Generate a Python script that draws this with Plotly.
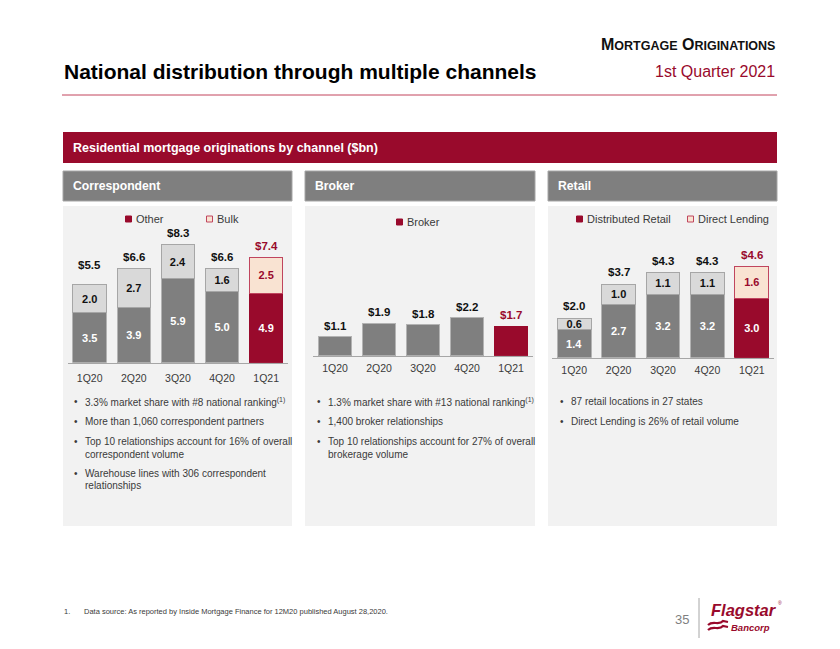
import plotly.graph_objects as go

# ---------------- data ----------------
quarters = ["1Q20", "2Q20", "3Q20", "4Q20", "1Q21"]

corr_other = [3.5, 3.9, 5.9, 5.0, 4.9]
corr_bulk = [2.0, 2.7, 2.4, 1.6, 2.5]
corr_total = [5.5, 6.6, 8.3, 6.6, 7.4]

broker_vals = [1.1, 1.9, 1.8, 2.2, 1.7]

retail_dist = [1.4, 2.7, 3.2, 3.2, 3.0]
retail_direct = [0.6, 1.0, 1.1, 1.1, 1.6]
retail_total = [2.0, 3.7, 4.3, 4.3, 4.6]

corr_bullets = [
    ["3.3% market share with #8 national ranking<sup>(1)</sup>"],
    ["More than 1,060 correspondent partners"],
    ["Top 10 relationships account for 16% of overall", "correspondent volume"],
    ["Warehouse lines with 306 correspondent", "relationships"],
]
broker_bullets = [
    ["1.3% market share with #13 national ranking<sup>(1)</sup>"],
    ["1,400 broker relationships"],
    ["Top 10 relationships account for 27% of overall", "brokerage volume"],
]
retail_bullets = [
    ["87 retail locations in 27 states"],
    ["Direct Lending is 26% of retail volume"],
]

# ---------------- style ----------------
OFF = 8                      # page body margin
W, H = 840 - 2 * OFF, 649 - 2 * OFF
CRIMSON = "#990a2c"
DGRAY = "#7f7f7f"
LGRAY = "#d9d9d9"
PINK = "#f9e3d2"
PANEL = "#f2f2f2"
HDR = "#7f7f7f"
TXT = "#3a3a3a"
FONT = "Liberation Sans, Arial, sans-serif"


def fx(px):
    return (px - OFF) / W


def fy(py):
    return 1 - (py - OFF) / H


fig = go.Figure()

last = len(quarters) - 1


def seg_colors(base, hl):
    return [hl if i == last else base for i in range(len(quarters))]


# Correspondent
fig.add_trace(go.Bar(
    x=quarters, y=corr_other, xaxis="x", yaxis="y",
    marker=dict(color=seg_colors(DGRAY, CRIMSON),
                line=dict(color=seg_colors("#b3b3b3", CRIMSON), width=1)),
    texttemplate="%{y:.1f}", textposition="inside", insidetextanchor="middle",
    textfont=dict(color="white", size=11, family=FONT, weight="bold"),
    showlegend=False, hoverinfo="skip"))
fig.add_trace(go.Bar(
    x=quarters, y=corr_bulk, xaxis="x", yaxis="y",
    marker=dict(color=seg_colors(LGRAY, PINK),
                line=dict(color=seg_colors("#a6a6a6", "#c0455e"), width=1)),
    texttemplate="%{y:.1f}", textposition="inside", insidetextanchor="middle",
    textfont=dict(color=seg_colors("#111111", CRIMSON), size=11, family=FONT, weight="bold"),
    showlegend=False, hoverinfo="skip"))

# Broker
fig.add_trace(go.Bar(
    x=quarters, y=broker_vals, xaxis="x2", yaxis="y2",
    marker=dict(color=seg_colors(DGRAY, CRIMSON),
                line=dict(color=seg_colors("#b3b3b3", CRIMSON), width=1)),
    showlegend=False, hoverinfo="skip"))

# Retail
fig.add_trace(go.Bar(
    x=quarters, y=retail_dist, xaxis="x3", yaxis="y3",
    marker=dict(color=seg_colors(DGRAY, CRIMSON),
                line=dict(color=seg_colors("#b3b3b3", CRIMSON), width=1)),
    texttemplate="%{y:.1f}", textposition="inside", insidetextanchor="middle",
    textfont=dict(color="white", size=11, family=FONT, weight="bold"),
    showlegend=False, hoverinfo="skip"))
fig.add_trace(go.Bar(
    x=quarters, y=retail_direct, xaxis="x3", yaxis="y3",
    marker=dict(color=seg_colors(LGRAY, PINK),
                line=dict(color=seg_colors("#a6a6a6", "#c0455e"), width=1)),
    texttemplate="%{y:.1f}", textposition="inside", insidetextanchor="middle",
    textfont=dict(color=seg_colors("#111111", CRIMSON), size=11, family=FONT, weight="bold"),
    showlegend=False, hoverinfo="skip"))

annotations = []
shapes = []


def note(px, py, text, size, color=TXT, xanchor="left", family=FONT, **kw):
    annotations.append(dict(
        x=fx(px), y=fy(py), xref="paper", yref="paper", xanchor=xanchor, yanchor="middle",
        showarrow=False, text=text, font=dict(family=family, size=size, color=color, **kw)))


# total labels
for xa, ya, totals, shift in [("x", "y", corr_total, 4), ("x2", "y2", broker_vals, 3),
                              ("x3", "y3", retail_total, 4)]:
    for i, (q, t) in enumerate(zip(quarters, totals)):
        annotations.append(dict(
            x=q, y=t, xref=xa, yref=ya, text=f"<b>${t:.1f}</b>", showarrow=False,
            yanchor="bottom", yshift=shift + (8 if (xa == "x" and i == 0) else 0),
            font=dict(family=FONT, size=11.5, color=CRIMSON if i == last else "#111111")))

# ---------------- header ----------------
note(777, 44,
     "<b>M<span style='font-size:12.5px'>ORTGAGE</span> O<span style='font-size:12.5px'>RIGINATIONS</span></b>",
     16, color="#111111", xanchor="right")
note(62, 72, "<b>National distribution through multiple channels</b>", 21, color="#000000")
note(777, 72, "1st Quarter 2021", 16, color=CRIMSON, xanchor="right")
shapes.append(dict(type="line", xref="paper", yref="paper", x0=fx(62), x1=fx(777),
                   y0=fy(95), y1=fy(95), line=dict(color="#c2455d", width=1)))

# banner
shapes.append(dict(type="rect", xref="paper", yref="paper", x0=fx(63), x1=fx(777),
                   y0=fy(163), y1=fy(132), fillcolor=CRIMSON, line=dict(width=0), layer="below"))
note(71, 148, "<b>Residential mortgage originations by channel ($bn)</b>", 12.5, color="white")

panels = [(63, 292, "Correspondent"), (305, 535, "Broker"), (548, 777, "Retail")]
for x0, x1, name in panels:
    shapes.append(dict(type="rect", xref="paper", yref="paper", x0=fx(x0), x1=fx(x1),
                       y0=fy(201), y1=fy(171), fillcolor=HDR,
                       line=dict(color="#a6a6a6", width=1), layer="below"))
    shapes.append(dict(type="rect", xref="paper", yref="paper", x0=fx(x0), x1=fx(x1),
                       y0=fy(526), y1=fy(206), fillcolor=PANEL,
                       line=dict(width=0), layer="below"))
    note(x0 + 8, 186, f"<b>{name}</b>", 12.2, color="white")

# legends (custom)
legend_items = [
    (125.5, 219, CRIMSON, CRIMSON, "Other"),
    (206.5, 219, PINK, "#c0455e", "Bulk"),
    (396.5, 222, CRIMSON, CRIMSON, "Broker"),
    (576.5, 219, CRIMSON, CRIMSON, "Distributed Retail"),
    (687.5, 219, PINK, "#c0455e", "Direct Lending"),
]
for sx, sy, fill, edge, label in legend_items:
    shapes.append(dict(type="rect", xref="paper", yref="paper", x0=fx(sx), x1=fx(sx + 6),
                       y0=fy(sy + 3), y1=fy(sy - 3), fillcolor=fill,
                       line=dict(color=edge, width=1)))
    note(sx + 8, sy, label, 11)

# bullets
line_gap = 12.5
for bullets, bx in [(corr_bullets, 72), (broker_bullets, 315), (retail_bullets, 558)]:
    y = 401.5
    for item in bullets:
        note(bx, y, "•", 10)
        for j, ln in enumerate(item):
            note(bx + 11, y + j * line_gap, ln, 10)
        y += 20 + (len(item) - 1) * 11.5

# footer
note(62, 611, "1.", 7.5)
note(82, 611, "Data source: As reported by Inside Mortgage Finance for 12M20 published August 28,2020.", 7.5)
note(691, 619, "35", 13, color="#7f7f7f", xanchor="right")
shapes.append(dict(type="line", xref="paper", yref="paper", x0=fx(699), x1=fx(699),
                   y0=fy(598), y1=fy(638), line=dict(color="#a6a6a6", width=1)))
note(709, 610, "Flagstar", 16.5, color=CRIMSON, weight="bold", style="italic")
note(776, 603, "®", 5, color=CRIMSON)
note(729, 627.5, "Bancorp", 9.5, color=CRIMSON, weight="bold", style="italic")


def wave(y0):
    pts = [(708, y0 + 2), (713, y0 - 3), (719, y0 + 3), (723, y0 - 2), (728, y0 - 1)]
    p = f"M {fx(pts[0][0])},{fy(pts[0][1])} "
    p += f"C {fx(pts[1][0])},{fy(pts[1][1])} {fx(pts[2][0])},{fy(pts[2][1])} {fx(pts[3][0])},{fy(pts[3][1])} "
    p += f"L {fx(pts[4][0])},{fy(pts[4][1])}"
    return p


for y0 in (623, 628):
    shapes.append(dict(type="path", xref="paper", yref="paper", path=wave(y0),
                       line=dict(color=CRIMSON, width=2.2)))

# ---------------- axes ----------------
axis_common = dict(showgrid=False, zeroline=False, showline=True, linecolor="#a6a6a6",
                   linewidth=1, ticks="outside", tickcolor="rgba(0,0,0,0)",
                   tickfont=dict(family=FONT, size=10.5, color=TXT), fixedrange=True)
yaxis_common = dict(showgrid=False, zeroline=False, showline=False, showticklabels=False,
                    fixedrange=True)

fig.update_layout(
    width=W, height=H, margin=dict(l=0, r=0, t=0, b=0),
    paper_bgcolor="white", plot_bgcolor="rgba(0,0,0,0)",
    barmode="stack",
    bargap=0.24,
    showlegend=False,
    uniformtext=dict(minsize=11, mode="show"),
    xaxis=dict(domain=[fx(67.6), fx(288.2)], anchor="y", ticklen=6, **axis_common),
    yaxis=dict(domain=[fy(362.7), fy(222.1)], range=[0, 9.9], anchor="x", **yaxis_common),
    xaxis2=dict(domain=[fx(313), fx(533)], anchor="y2", ticklen=3, **axis_common),
    yaxis2=dict(domain=[fy(355.7), fy(235.3)], range=[0, 7.0], anchor="x2", **yaxis_common),
    xaxis3=dict(domain=[fx(552), fx(774)], anchor="y3", ticklen=3, **axis_common),
    yaxis3=dict(domain=[fy(357.7), fy(238.9)], range=[0, 6.0], anchor="x3", **yaxis_common),
    annotations=annotations,
    shapes=shapes,
)

fig.write_html("out.html")
